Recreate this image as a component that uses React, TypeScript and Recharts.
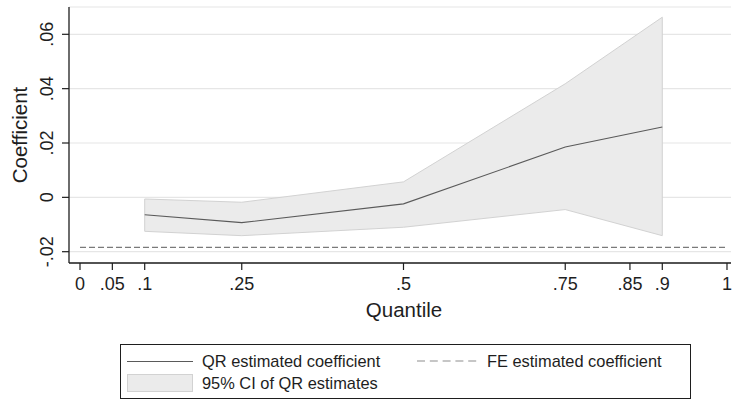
import React from "react";
import {
  ComposedChart,
  Area,
  Line,
  XAxis,
  YAxis,
  CartesianGrid,
  ReferenceLine,
} from "recharts";

const quantiles = [0.1, 0.25, 0.5, 0.75, 0.9];
const qrCoef = [-0.0064, -0.0093, -0.0024, 0.0185, 0.0259];
const ciLow = [-0.0125, -0.0141, -0.011, -0.0045, -0.0141];
const ciHigh = [-0.0006, -0.0018, 0.0057, 0.0418, 0.0663];
const feCoef = -0.0184;
const feRange = [0, 1];

const xTicks = [0, 0.05, 0.1, 0.25, 0.5, 0.75, 0.85, 0.9, 1];
const yTicks = [-0.02, 0, 0.02, 0.04, 0.06];

const FONT = '"Liberation Sans", Arial, Helvetica, sans-serif';
const INK = "#1e1e1e";
const BAND_FILL = "#ebebeb";
const BAND_EDGE = "#d2d2d2";

const fmt = (v: number) => (v === 0 ? "0" : String(v).replace("0.", "."));

const data = quantiles.map((q, i) => ({
  q,
  coef: qrCoef[i],
  band: [ciLow[i], ciHigh[i]],
}));

function YTick(props: any) {
  const { x, y, payload } = props;
  return (
    <text
      x={x}
      y={y}
      transform={`rotate(-90, ${x}, ${y})`}
      textAnchor="middle"
      fontSize={18}
      fill={INK}
      fontFamily={FONT}
    >
      {fmt(payload.value)}
    </text>
  );
}

function YTitle(props: any) {
  const vb = props.viewBox;
  const cy = vb.y + vb.height / 2;
  return (
    <text
      transform={`translate(26.5, ${cy}) rotate(-90)`}
      textAnchor="middle"
      fontSize={20.5}
      fill={INK}
      fontFamily={FONT}
    >
      Coefficient
    </text>
  );
}

function XTitle(props: any) {
  const vb = props.viewBox;
  return (
    <text
      x={vb.x + vb.width / 2 + 4}
      y={317}
      textAnchor="middle"
      fontSize={20.5}
      fill={INK}
      fontFamily={FONT}
    >
      Quantile
    </text>
  );
}

function ChartLegend() {
  const text: React.CSSProperties = {
    position: "absolute",
    fontSize: 16.4,
    color: INK,
    lineHeight: "18px",
    whiteSpace: "nowrap",
  };
  return (
    <div
      style={{
        position: "absolute",
        left: 120,
        top: 344,
        width: 571,
        height: 55,
        boxSizing: "border-box",
        border: `1.3px solid ${INK}`,
        background: "#fff",
        fontFamily: FONT,
      }}
    >
      <div style={{ position: "absolute", left: 6, top: 15.5, width: 66, borderTop: "1.2px solid #5a5a5a" }} />
      <div style={{ ...text, left: 81, top: 7 }}>QR estimated coefficient</div>
      <svg style={{ position: "absolute", left: 296, top: 12 }} width={64} height={8}>
        <line x1={0} y1={4} x2={64} y2={4} stroke="#b4b4b4" strokeWidth={1.3} strokeDasharray="8 4.8" />
      </svg>
      <div style={{ ...text, left: 366, top: 7 }}>FE estimated coefficient</div>
      <div
        style={{
          position: "absolute",
          left: 6,
          top: 29,
          width: 66,
          height: 18,
          boxSizing: "border-box",
          background: BAND_FILL,
          border: `1px solid ${BAND_EDGE}`,
        }}
      />
      <div style={{ ...text, left: 81, top: 29 }}>95% CI of QR estimates</div>
    </div>
  );
}

export default function App() {
  const first = 0;
  const last = quantiles.length - 1;
  return (
    <div
      style={{
        position: "absolute",
        left: 0,
        top: 0,
        width: 734,
        height: 400,
        background: "#fff",
        fontFamily: FONT,
      }}
    >
      <ComposedChart
        width={734}
        height={400}
        data={data}
        margin={{ top: 7, right: 3, left: 9, bottom: 79 }}
      >
        <CartesianGrid vertical={false} stroke="#e6e6e6" strokeWidth={1.2} />
        <XAxis
          type="number"
          dataKey="q"
          domain={[-0.017, 1.0062]}
          allowDataOverflow
          ticks={xTicks}
          tickFormatter={fmt}
          interval={0}
          height={58}
          tickSize={7}
          tickMargin={7}
          axisLine={{ stroke: INK, strokeWidth: 1.3 }}
          tickLine={{ stroke: INK, strokeWidth: 1.2 }}
          tick={{ fontSize: 18, fill: INK, fontFamily: FONT }}
          label={<XTitle />}
        />
        <YAxis
          type="number"
          domain={[-0.02416, 0.07005]}
          allowDataOverflow
          ticks={yTicks}
          interval={0}
          width={60}
          tickSize={7}
          tickMargin={9}
          axisLine={{ stroke: INK, strokeWidth: 1.3 }}
          tickLine={{ stroke: INK, strokeWidth: 1.2 }}
          tick={<YTick />}
          label={<YTitle />}
        />
        <Area
          type="linear"
          dataKey="band"
          fill={BAND_FILL}
          fillOpacity={1}
          stroke={BAND_EDGE}
          strokeWidth={1}
          isAnimationActive={false}
          dot={false}
          activeDot={false}
        />
        <ReferenceLine
          segment={[
            { x: quantiles[first], y: ciLow[first] },
            { x: quantiles[first], y: ciHigh[first] },
          ]}
          stroke={BAND_EDGE}
          strokeWidth={1}
        />
        <ReferenceLine
          segment={[
            { x: quantiles[last], y: ciLow[last] },
            { x: quantiles[last], y: ciHigh[last] },
          ]}
          stroke={BAND_EDGE}
          strokeWidth={1}
        />
        <Line
          type="linear"
          dataKey="coef"
          stroke="#5a5a5a"
          strokeWidth={1.1}
          dot={false}
          activeDot={false}
          isAnimationActive={false}
        />
        <ReferenceLine
          segment={[
            { x: feRange[0], y: feCoef },
            { x: feRange[1], y: feCoef },
          ]}
          stroke="#7a7a7a"
          strokeWidth={1.4}
          strokeDasharray="6 3"
        />
      </ComposedChart>
      <ChartLegend />
    </div>
  );
}
